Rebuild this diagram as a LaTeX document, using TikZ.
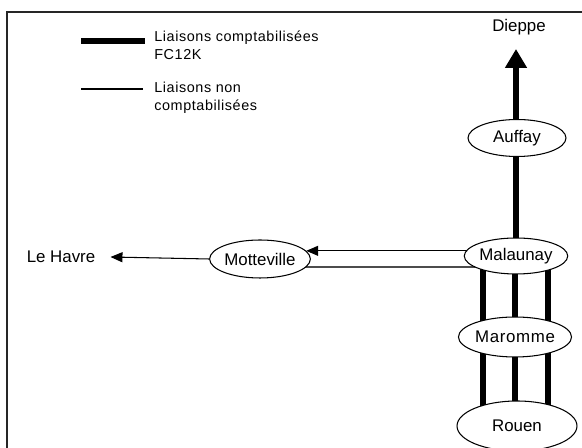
\documentclass[tikz,border=0pt]{standalone}
\usepackage{fontspec}
\setmainfont{Liberation Sans}
\newfontfamily\legendfont[LetterSpace=4]{Liberation Sans}
\newfontfamily\largefont[LetterSpace=4]{Liberation Sans}
\usetikzlibrary{%
        arrows.meta,
        backgrounds,
        calc,
        shapes.geometric
    }
\tikzset{%
    ville/.style={%
        ellipse, draw, fill=white, line width=0.6pt, inner sep=0pt,
        font=\fontsize{9.6}{11}\selectfont
    },
    nom/.style={inner sep=0pt, font=\fontsize{9.6}{11}\selectfont},
    legende/.style={%
        anchor=west, align=left, inner sep=0pt,
        font=\legendfont\fontsize{8.2}{10.5}\selectfont
    },
    cadre/.style={line width=1.1pt, black!85},
    fc12k/.style={line width=3pt},
    autre/.style={line width=0.6pt},
    grosse fleche/.style={-{Triangle[length=10.8pt, width=11.9pt]}},
    fleche/.style={-{Triangle[length=6.8pt, width=5.7pt]}}
}

\begin{document}
\begin{tikzpicture}[x=0.02cm, y=-0.02cm]

    \useasboundingbox (0, 0) rectangle (582, 448);

    % Cadre
    \draw[cadre] (7, 448) -- (7, 12) -- (582, 12);

    % Legende
    \draw[fc12k] (81, 41) -- (145, 41);
    \node[legende] (leg-fc12k) at (154, 45) {Liaisons comptabilisées\\FC12K};

    \draw[autre] (81, 89) -- (143, 89);
    \node[legende] (leg-autre) at (154, 98) {Liaisons non\\comptabilisées};

    % Villes
    \node[ville, minimum width=1.96cm, minimum height=0.74cm]
        (auffay) at (517, 138) {Auffay};
    \node[ville, minimum width=1.98cm, minimum height=0.72cm]
        (malaunay) at (516, 256) {Malaunay};
    \node[ville, minimum width=1.94cm, minimum height=0.76cm]
        (motteville) at (260, 259) {Motteville};
    \node[ville, minimum width=1.96cm, minimum height=0.8cm, font=\largefont\fontsize{9.6}{11}\selectfont]
        (maromme) at (515, 337) {Maromme};
    \node[ville, minimum width=2.4cm, minimum height=1cm]
        (rouen) at (517, 426) {Rouen};

    \node[nom] (dieppe) at (519, 27) {Dieppe};
    \node[nom] (le-havre) at (61, 257) {Le Havre};
    \coordinate (dieppe-tip) at (516, 49);

    % Liaisons
    \draw[fc12k, grosse fleche] (auffay.north -| dieppe-tip) -- (dieppe-tip);

    \begin{scope}[on background layer]
        \draw[fc12k] (dieppe-tip |- auffay) -- (dieppe-tip |- malaunay);
        \foreach \dx in {-32, 0, 33}{%
            \coordinate (trait) at ($(maromme) + (\dx, 0)$);
            \draw[fc12k] (trait |- malaunay) -- (trait |- rouen);
        };
        \draw[autre, fleche] (malaunay |- motteville.10) -- (motteville.10);
        \draw[autre, black!70, line width=0.8pt]
            ($(motteville) + (0, 8)$) -- ($(malaunay |- motteville) + (0, 8)$);
    \end{scope}

    \draw[autre, fleche] (motteville.west) -- ([xshift=8.5pt] le-havre.east);

\end{tikzpicture}
\end{document}
